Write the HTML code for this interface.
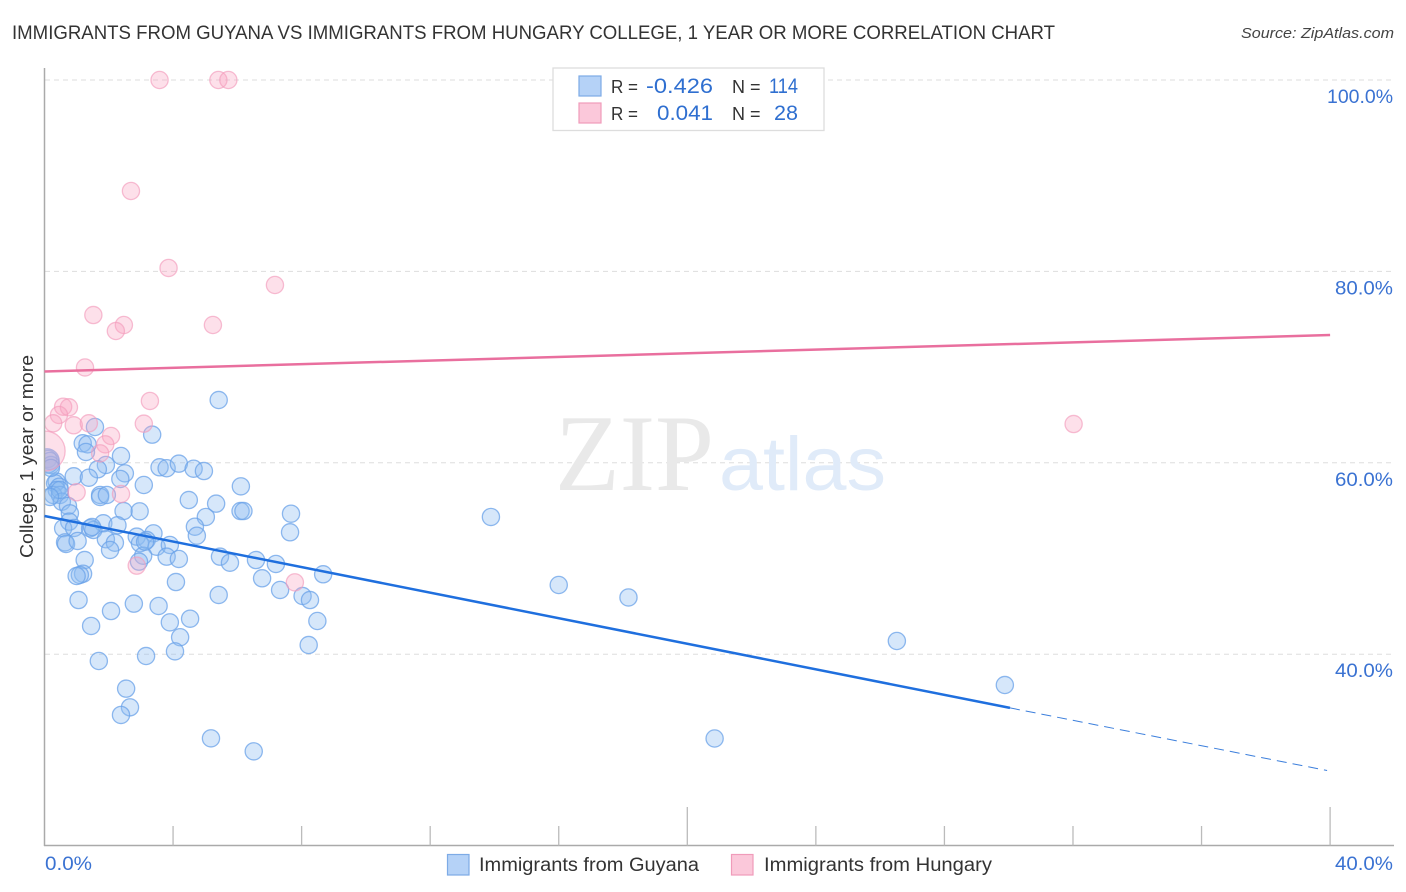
<!DOCTYPE html>
<html lang="en">
<head>
<meta charset="utf-8">
<title>Immigrants from Guyana vs Immigrants from Hungary College Correlation Chart</title>
<style>
html,body{margin:0;padding:0;background:#fff}
svg{display:block;font-family:"Liberation Sans",sans-serif}
</style>
</head>
<body>
<svg id="chart" width="1406" height="892" viewBox="0 0 1406 892" xmlns="http://www.w3.org/2000/svg">
  <text x="12" y="39" font-size="19" fill="#333" textLength="1043" lengthAdjust="spacingAndGlyphs">IMMIGRANTS FROM GUYANA VS IMMIGRANTS FROM HUNGARY COLLEGE, 1 YEAR OR MORE CORRELATION CHART</text>
  <text x="1241" y="38" font-size="15" font-style="italic" fill="#444" textLength="153" lengthAdjust="spacingAndGlyphs">Source: ZipAtlas.com</text>
  <g id="grid"></g>
  <g>
    <text x="555" y="490" font-family="'Liberation Serif',serif" font-size="109" fill="#e9e9e9" textLength="159" lengthAdjust="spacingAndGlyphs">ZIP</text>
    <text x="719" y="490" font-size="76" fill="#e0ebf9" textLength="167" lengthAdjust="spacingAndGlyphs">atlas</text>
  </g>
  <g id="points"></g>
  <rect x="0" y="60" width="45" height="786" fill="#fff"/>
  <g id="axes"></g>
  <g id="trends"></g>
  <text transform="translate(33,456.5) rotate(-90)" text-anchor="middle" font-size="18.5" fill="#333" textLength="203" lengthAdjust="spacingAndGlyphs">College, 1 year or more</text>
  <g>
    <rect x="553" y="68" width="271" height="62.5" fill="#fff" stroke="#ddd" stroke-width="1.3"/>
    <rect x="579" y="76" width="22" height="20" fill="#b5d2f7" stroke="#7dabe6" stroke-width="1.2"/>
    <rect x="579" y="103" width="22" height="20" fill="#fbc8da" stroke="#f09bba" stroke-width="1.2"/>
    <text x="611" y="93" font-size="18" fill="#333" textLength="27" lengthAdjust="spacingAndGlyphs">R =</text>
    <text x="646" y="93" font-size="21" fill="#2f6fd0" textLength="67" lengthAdjust="spacingAndGlyphs">-0.426</text>
    <text x="732" y="93" font-size="18" fill="#333">N =</text>
    <text x="769" y="93" font-size="21" fill="#2f6fd0" textLength="29" lengthAdjust="spacingAndGlyphs">114</text>
    <text x="611" y="120" font-size="18" fill="#333" textLength="27" lengthAdjust="spacingAndGlyphs">R =</text>
    <text x="657" y="120" font-size="21" fill="#2f6fd0" textLength="56" lengthAdjust="spacingAndGlyphs">0.041</text>
    <text x="732" y="120" font-size="18" fill="#333">N =</text>
    <text x="774" y="120" font-size="21" fill="#2f6fd0" textLength="24" lengthAdjust="spacingAndGlyphs">28</text>
  </g>
  <g>
    <rect x="447.5" y="854.5" width="21.5" height="20.5" fill="#b5d2f7" stroke="#7dabe6" stroke-width="1.2"/>
    <text x="479" y="871" font-size="19" fill="#333" textLength="220" lengthAdjust="spacingAndGlyphs">Immigrants from Guyana</text>
    <rect x="731.5" y="854.5" width="21.5" height="20.5" fill="#fbc8da" stroke="#f09bba" stroke-width="1.2"/>
    <text x="764" y="871" font-size="19" fill="#333" textLength="228" lengthAdjust="spacingAndGlyphs">Immigrants from Hungary</text>
  </g>
</svg>
<script>
const yTicks = [100, 80, 60, 40];
const yTickLabels = ["100.0%", "80.0%", "60.0%", "40.0%"];
const xTicks = [4, 8, 12, 16, 20, 24, 28, 32, 36, 40];
const xTickMajor = [20, 40];
const xEndLabels = ["0.0%", "40.0%"];

const guyanaX = [5.42,1.57,3.35,1.19,1.34,1.29,2.38,0.11,0.17,0.20,0.08,1.91,1.66,2.50,2.36,0.91,1.38,3.09,3.58,3.80,4.18,4.64,4.96,6.11,4.49,5.34,5.02,4.68,4.74,6.10,6.19,7.67,7.64,1.73,1.73,1.94,2.96,2.46,0.38,0.33,0.46,0.38,0.27,0.48,0.54,0.73,0.79,0.77,0.58,0.92,1.83,2.27,1.42,1.52,3.39,2.87,1.91,2.19,2.04,0.64,0.67,1.03,3.18,2.97,3.49,3.90,3.80,4.18,3.07,2.94,1.25,1.20,1.10,1.00,4.09,5.46,5.77,6.58,7.20,8.67,6.77,7.33,8.03,8.26,5.42,1.06,2.07,2.78,3.55,3.90,4.53,4.22,4.06,8.49,8.22,3.16,1.69,2.54,2.66,2.38,5.18,6.51,1.45,13.89,16.00,18.17,26.52,29.88,20.85,0.20,0.48,3.13,1.48,0.17];
const guyanaY = [66.56,63.74,62.94,62.04,61.93,61.13,60.71,60.40,60.19,59.77,60.19,59.77,59.32,58.90,58.31,58.59,58.44,57.68,59.53,59.43,59.91,59.38,59.14,57.54,56.11,55.73,54.34,53.32,52.38,54.96,54.96,54.68,52.74,56.64,56.43,56.64,54.93,54.96,58.03,57.86,57.50,57.16,56.64,56.64,55.94,55.49,54.72,53.85,53.16,53.19,53.68,53.47,53.16,52.98,52.63,52.28,52.01,51.65,50.89,51.69,51.52,51.83,51.93,51.59,51.23,51.41,50.19,49.95,50.29,49.67,49.84,48.41,48.28,48.17,47.54,50.19,49.56,49.84,49.43,48.35,47.93,46.71,46.08,45.66,46.19,45.66,44.51,45.28,45.04,43.33,43.71,41.77,40.30,43.47,40.96,39.81,39.29,36.40,34.45,33.65,31.21,29.85,42.95,54.34,47.23,45.93,41.38,36.78,31.19,59.46,57.16,51.76,53.29,56.43];
const guyanaHeavy = [{index: 10, weight: 2}];

const hungaryX = [3.58,5.41,5.72,2.69,3.86,7.17,1.52,2.47,2.22,5.24,1.26,3.28,0.58,0.76,0.45,0.27,0.91,1.38,3.09,2.07,1.89,1.73,32.02,2.38,1.00,2.87,7.79,0.02];
const hungaryY = [100,100,100,88.40,80.36,78.58,75.44,74.40,73.77,74.40,69.96,66.46,65.86,65.80,65.00,64.13,63.92,64.13,64.09,62.80,61.93,60.99,64.05,56.74,56.92,49.25,47.51,61.23];
const hungaryHeavy = [{index: 27, weight: 5.4}];

const guyanaTrendX = [0, 30.04, 40];
const guyanaTrendY = [54.44, 34.39, 27.74];
const hungaryTrendX = [0, 40];
const hungaryTrendY = [69.54, 73.35];

const NS = "http://www.w3.org/2000/svg";
const xScale = v => 44.5 + v * 32.14;
const yScale = v => 1037 - v * 9.57;
const BASE_R = 8.6;

function make(parent, tag, attrs, text) {
  const el = document.createElementNS(NS, tag);
  for (const k in attrs) el.setAttribute(k, attrs[k]);
  if (text !== undefined) el.textContent = text;
  parent.appendChild(el);
  return el;
}

function labelWidth(s) {
  return s.length === 6 ? 66 : s.length === 5 ? 58 : 47;
}

const grid = document.getElementById("grid");
const axes = document.getElementById("axes");
const pointsG = document.getElementById("points");
const trends = document.getElementById("trends");

yTicks.forEach((t, i) => {
  const line = make(grid, "line", {x1: 45, x2: 1393, y1: yScale(t), y2: yScale(t), stroke: "#ddd", "stroke-width": 1, "stroke-dasharray": "5 4"});
  
  
  const label = make(axes, "text", {x: 1393 - labelWidth(yTickLabels[i]), y: yScale(t) + 23, "font-size": 19.5, fill: "#3a72d2", textLength: labelWidth(yTickLabels[i]), lengthAdjust: "spacingAndGlyphs"}, yTickLabels[i]);
  
  
});

const yAxis = make(axes, "line", {x1: 44.5, x2: 44.5, y1: 68, y2: 846, stroke: "#aaa", "stroke-width": 1.5});


const xAxis = make(axes, "line", {x1: 44, x2: 1394, y1: 845.5, y2: 845.5, stroke: "#aaa", "stroke-width": 1.5});



xTicks.forEach(t => {
  const top = xTickMajor.includes(t) ? 807 : 826;
  const tick = make(axes, "line", {x1: xScale(t), x2: xScale(t), y1: top, y2: 845.5, stroke: "#bbb", "stroke-width": 1.3});
  
  
});

const xLabelLeft = make(axes, "text", {x: 45, y: 870, "font-size": 19.5, fill: "#3a72d2", textLength: labelWidth(xEndLabels[0]), lengthAdjust: "spacingAndGlyphs"}, xEndLabels[0]);


const xLabelRight = make(axes, "text", {x: 1393 - labelWidth(xEndLabels[1]), y: 870, "font-size": 19.5, fill: "#3a72d2", textLength: labelWidth(xEndLabels[1]), lengthAdjust: "spacingAndGlyphs"}, xEndLabels[1]);



function weightAt(heavy, i) {
  const hit = heavy.find(h => h.index === i);
  return hit ? hit.weight : 1;
}

guyanaX.forEach((x, i) => {
  const c = make(pointsG, "circle", {cx: xScale(x), cy: yScale(guyanaY[i]), r: BASE_R * Math.sqrt(weightAt(guyanaHeavy, i)), fill: "#8ebcf2", "fill-opacity": 0.36, stroke: "#6aa2e8", "stroke-opacity": 0.75, "stroke-width": 1.3});
  
  
});

hungaryX.forEach((x, i) => {
  const c = make(pointsG, "circle", {cx: xScale(x), cy: yScale(hungaryY[i]), r: BASE_R * Math.sqrt(weightAt(hungaryHeavy, i)), fill: "#f8a5c2", "fill-opacity": 0.34, stroke: "#f29bbb", "stroke-opacity": 0.65, "stroke-width": 1.3});
  
  
});

const hungaryLine = make(trends, "line", {x1: xScale(hungaryTrendX[0]), y1: yScale(hungaryTrendY[0]), x2: xScale(hungaryTrendX[1]), y2: yScale(hungaryTrendY[1]), stroke: "#e96f9e", "stroke-width": 2.5});



const guyanaLine = make(trends, "line", {x1: xScale(guyanaTrendX[0]), y1: yScale(guyanaTrendY[0]), x2: xScale(guyanaTrendX[1]), y2: yScale(guyanaTrendY[1]), stroke: "#1f6fde", "stroke-width": 2.5});



const guyanaDash = make(trends, "line", {x1: xScale(guyanaTrendX[1]), y1: yScale(guyanaTrendY[1]), x2: xScale(guyanaTrendX[2]) - 3, y2: yScale(guyanaTrendY[2]) - 1, stroke: "#3c7fdc", "stroke-width": 1, "stroke-dasharray": "10 6"});


</script>
</body>
</html>
